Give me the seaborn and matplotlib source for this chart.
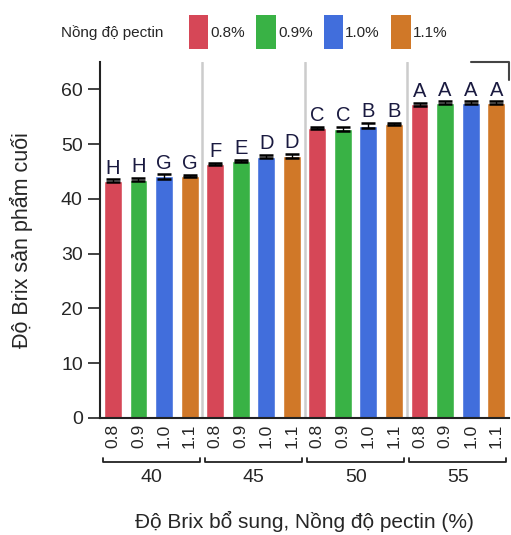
import numpy as np
import pandas as pd
import matplotlib
matplotlib.use('Agg')
import matplotlib.pyplot as plt
import matplotlib.transforms as mtransforms
from matplotlib.patches import Patch
import seaborn as sns

# data
brix_levels = ['40', '45', '50', '55']
pectin_levels = ['0.8', '0.9', '1.0', '1.1']
brix_mean = [43.3, 43.5, 44.1, 44.2,
             46.4, 46.9, 47.7, 47.8,
             53.0, 52.8, 53.4, 53.7,
             57.3, 57.6, 57.6, 57.6]
brix_sd = [0.3, 0.3, 0.4, 0.2,
           0.2, 0.2, 0.3, 0.4,
           0.2, 0.4, 0.5, 0.2,
           0.3, 0.2, 0.2, 0.2]
letters = ['H', 'H', 'G', 'G', 'F', 'E', 'D', 'D',
           'C', 'C', 'B', 'B', 'A', 'A', 'A', 'A']
colors = ['#D64757', '#39B245', '#416EDC', '#D07828']

df = pd.DataFrame({
    'brix': np.repeat(brix_levels, len(pectin_levels)),
    'pectin': pectin_levels * len(brix_levels),
    'value': brix_mean,
    'sd': brix_sd,
})
df['cond'] = df['brix'] + '_' + df['pectin']

sns.set_style('white')
plt.rcParams['font.family'] = ['Liberation Sans', 'DejaVu Sans']

fig = plt.figure(figsize=(5.11, 5.35), dpi=100)
ax = fig.add_axes([0.196, 0.219, 0.800, 0.665])

sns.barplot(data=df, x='cond', y='value', hue='pectin', hue_order=pectin_levels,
            palette=colors, dodge=False, width=0.7, errorbar=None,
            saturation=1, legend=False, ax=ax)

x = np.arange(len(df))
ax.errorbar(x, df['value'], yerr=df['sd'], fmt='none', ecolor='black',
            elinewidth=1.0, capsize=5, capthick=1.8, zorder=3)
for xi, v, s, lab in zip(x, df['value'], df['sd'], letters):
    ax.text(xi, v + s + 0.3, lab, ha='center', va='bottom',
            fontsize=14.5, color='#1a1a40')

# separators between brix groups
for k in range(1, len(brix_levels)):
    ax.axvline(k * 4 - 0.5, color='#cccccc', lw=1.8, zorder=0)

ax.set_xlim(-0.5, len(df) - 0.5)
ax.set_ylim(0, 65)
ax.set_yticks(range(0, 61, 10))
ax.tick_params(axis='y', labelsize=14, length=9, width=1.2, left=True, color='#222222')
ax.set_xticks(x)
ax.set_xticklabels(df['pectin'], rotation=90, fontsize=12.5)
ax.tick_params(axis='x', length=0, pad=4)
ax.set_xlabel('')
ax.set_ylabel('Độ Brix sản phẩm cuối', fontsize=15.5)
ax.yaxis.set_label_coords(-0.165, 0.5)

for side in ['top', 'right']:
    ax.spines[side].set_visible(False)
for side in ['left', 'bottom']:
    ax.spines[side].set_color('#222222')
    ax.spines[side].set_linewidth(1.5)

# group brackets and labels below the tick labels
trans = mtransforms.blended_transform_factory(ax.transData, ax.transAxes)
yb = -0.125
for k, lev in enumerate(brix_levels):
    x0, x1 = k * 4 - 0.4, k * 4 + 3.4
    ax.plot([x0, x0, x1, x1], [yb + 0.012, yb, yb, yb + 0.012], color='#222222',
            lw=1.3, transform=trans, clip_on=False)
    ax.text((x0 + x1) / 2, yb - 0.02, lev, ha='center', va='top', fontsize=14,
            transform=trans)

# small corner line at top right
ax.plot([14.0, 15.5, 15.5], [1.0, 1.0, 0.95], color='#444444', lw=1.5,
        transform=trans, clip_on=False)

fig.text(0.595, 0.005, 'Độ Brix bổ sung, Nồng độ pectin (%)', ha='center',
         va='bottom', fontsize=15)

# legend at the top
fig.text(0.12, 0.94, 'Nồng độ pectin', ha='left', va='center', fontsize=11)
handles = [Patch(facecolor=c, edgecolor='none', label=p + '%')
           for c, p in zip(colors, pectin_levels)]
fig.legend(handles=handles, loc='center left', bbox_to_anchor=(0.343, 0.94),
           ncol=4, frameon=False, handlelength=1.25, handleheight=3.0,
           handletextpad=0.15, columnspacing=0.75, prop={'size': 11})

fig.savefig('out.png', dpi=100)
